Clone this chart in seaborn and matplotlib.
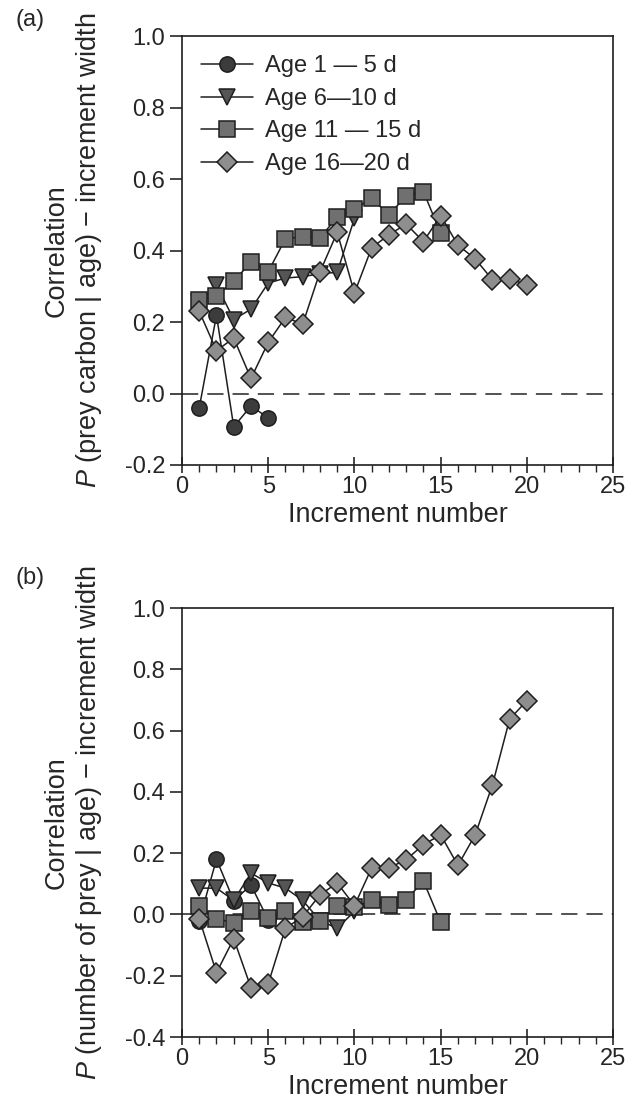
import matplotlib
matplotlib.use('Agg')
import matplotlib.pyplot as plt
import seaborn as sns
import pandas as pd
import numpy as np

# Data
increments = list(range(1, 21))

# (a) prey carbon
a_age_1_5 = [-0.040, 0.219, -0.093, -0.035, -0.068]
a_age_6_10 = [0.255, 0.304, 0.207, 0.236, 0.309, 0.323, 0.327, 0.335, 0.339, 0.490]
a_age_11_15 = [0.262, 0.272, 0.315, 0.367, 0.341, 0.433, 0.439, 0.436, 0.493, 0.516,
               0.546, 0.500, 0.553, 0.565, 0.448]
a_age_16_20 = [0.230, 0.120, 0.155, 0.042, 0.143, 0.213, 0.194, 0.340, 0.451, 0.281,
               0.408, 0.444, 0.474, 0.425, 0.498, 0.415, 0.377, 0.318, 0.321, 0.304]

# (b) number of prey
b_age_1_5 = [-0.020, 0.180, 0.045, 0.096, -0.018]
b_age_6_10 = [0.086, 0.086, 0.046, 0.135, 0.103, 0.086, 0.046, -0.020, -0.045, 0.010]
b_age_11_15 = [0.029, -0.014, -0.027, 0.013, -0.012, 0.010, -0.025, -0.020, 0.029, 0.024,
               0.046, 0.032, 0.048, 0.109, -0.025]
b_age_16_20 = [-0.014, -0.190, -0.079, -0.239, -0.226, -0.045, -0.007, 0.064, 0.103, 0.029,
               0.152, 0.152, 0.179, 0.228, 0.260, 0.160, 0.260, 0.423, 0.638, 0.698]

labels = ['Age 1 \u2014 5 d', 'Age 6\u201410 d', 'Age 11 \u2014 15 d', 'Age 16\u201420 d']
markers = ['o', 'v', 's', 'D']
faces = ['#3c3c3c', '#555555', '#707070', '#8e8e8e']
sizes = [11, 11, 11, 10]

sns.set_style('ticks')
plt.rcParams['font.family'] = ['Liberation Sans', 'DejaVu Sans']
plt.rcParams['mathtext.fontset'] = 'custom'
plt.rcParams['mathtext.it'] = 'Liberation Sans:italic'
plt.rcParams['mathtext.rm'] = 'Liberation Sans'
plt.rcParams['axes.linewidth'] = 1.2

fig = plt.figure(figsize=(6.35, 11.14), dpi=100)
ax_a = fig.add_axes([0.2866, 0.5826, 0.679, 0.385])
ax_b = fig.add_axes([0.2866, 0.0691, 0.679, 0.385])


def draw(ax, series, ylo, ylabel2):
    for vals, lab, m, fc, ms in zip(series, labels, markers, faces, sizes):
        df = pd.DataFrame({'x': increments[:len(vals)], 'y': vals})
        sns.lineplot(data=df, x='x', y='y', ax=ax, color='#1e1e1e', lw=1.1,
                     marker=m, markersize=ms, markerfacecolor=fc,
                     markeredgecolor='#1e1e1e', markeredgewidth=1.1, label=lab)
    ax.axhline(0, color='#444444', lw=1.3, ls=(0, (9, 5)), zorder=0)
    ax.set_xlim(0, 25)
    ax.set_ylim(ylo, 1.0)
    ax.set_xticks(range(0, 26, 5))
    ax.set_xticks(range(0, 26), minor=True)
    yt = np.round(np.arange(ylo, 1.01, 0.2), 1)
    ax.set_yticks(yt)
    ax.set_yticklabels([f'{v:.1f}' for v in yt])
    ax.tick_params(axis='x', which='major', direction='inout', length=12, width=1.2,
                   labelsize=17, pad=2)
    ax.tick_params(axis='x', which='minor', direction='out', length=5, width=1.0)
    ax.tick_params(axis='y', direction='out', length=9, width=1.2, labelsize=17, pad=3)
    for s in ax.spines.values():
        s.set_visible(True)
        s.set_color('#1e1e1e')
    ax.set_xlabel('Increment number', fontsize=19.5, labelpad=3)
    ax.set_ylabel('Correlation\n' + ylabel2, fontsize=19.5, linespacing=1.2, labelpad=15)


draw(ax_a, [a_age_1_5, a_age_6_10, a_age_11_15, a_age_16_20], -0.2,
     r'$\it{P}$ (prey carbon | age) $-$ increment width')
draw(ax_b, [b_age_1_5, b_age_6_10, b_age_11_15, b_age_16_20], -0.4,
     r'$\it{P}$ (number of prey | age) $-$ increment width')

fig.text(0.025, 1 - 20 / 1114, '(a)', fontsize=17, ha='left', va='center')
fig.text(0.025, 1 - 578 / 1114, '(b)', fontsize=17, ha='left', va='center')

ax_a.legend(loc='upper left', bbox_to_anchor=(-0.005, 1.005), frameon=False,
            fontsize=17, handlelength=2.2, handletextpad=0.5, labelspacing=0.45,
            borderaxespad=0.5)
ax_b.get_legend().remove()

fig.savefig('out.png', dpi=100)
